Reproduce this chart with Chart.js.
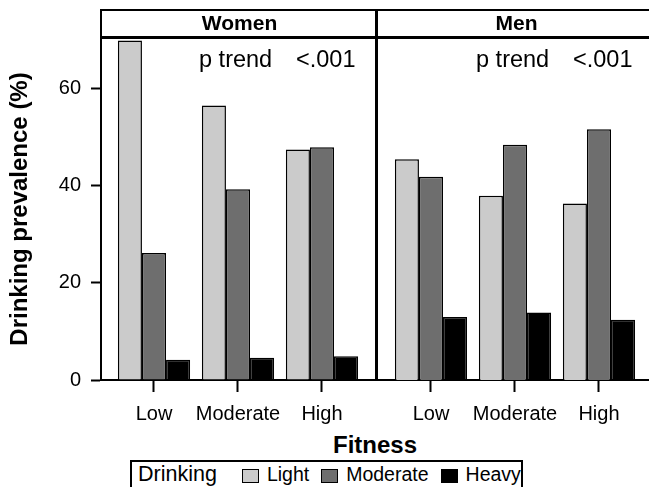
<!DOCTYPE html>
<html lang="en">
<head>
<meta charset="UTF-8">
<title>Drinking prevalence by fitness</title>
<script src="https://cdn.jsdelivr.net/npm/chart.js@4.4.0/dist/chart.umd.min.js"></script>
<style>
    * { margin: 0; padding: 0; box-sizing: border-box; }
    body {
        width: 649px; height: 487px; overflow: hidden; background: #fff;
        font-family: 'Liberation Sans', Arial, sans-serif; color: #000;
    }
    #wrap { position: relative; width: 649px; height: 487px; overflow: hidden; }
    #leftBox { position: absolute; left: 0; top: 0; width: 378px; height: 428px; }
    #rightBox { position: absolute; left: 378px; top: 0; width: 277px; height: 428px; }
    #xTitle {
        position: absolute; left: 375px; top: 433px; transform: translateX(-50%);
        font-weight: bold; font-size: 24px; line-height: 24px; white-space: nowrap;
    }
    #legend {
        position: absolute; left: 130px; top: 460px; width: 393px; height: 40px;
        border: 2px solid #000; display: flex; align-items: flex-start;
        line-height: 24px; padding-left: 6px; white-space: nowrap;
    }
    #legend .ttl { font-size: 21.5px; margin-right: 25px; }
    #legend .item { display: flex; align-items: flex-start; margin-right: 12px; font-size: 19.5px; }
    #legend .sw { width: 17px; height: 14px; margin-top: 7px; margin-right: 8px; border: 1.5px solid #000; }
</style>
</head>
<body>
<div id="wrap">
    <div id="leftBox"><canvas id="womenChart"></canvas></div>
    <div id="rightBox"><canvas id="menChart"></canvas></div>
    <div id="xTitle">Fitness</div>
    <div id="legend"></div>
</div>

<script>
    // data
    const fitnessLevels = ['Low', 'Moderate', 'High'];
    const fitnessPos = [1, 2, 3];
    const drinkingLevels = ['Light', 'Moderate', 'Heavy'];
    const womenLight = [70.0, 56.6, 47.5];
    const womenModerate = [26.2, 39.3, 48.0];
    const womenHeavy = [4.2, 4.6, 4.9];
    const menLight = [45.5, 38.0, 36.4];
    const menModerate = [41.9, 48.5, 51.7];
    const menHeavy = [13.0, 13.9, 12.4];
    const yTicks = [0, 20, 40, 60];
    const pTrendLabel = 'p trend';
    const pTrendValue = '<.001';

    const drinkingColors = ['#cbcbcb', '#6e6e6e', '#000000'];

    Chart.defaults.font.family = "'Liberation Sans', Arial, sans-serif";
    Chart.defaults.color = '#000';

    // strip header, frame lines and p trend text
    const panelDecor = {
        id: 'panelDecor',
        afterDraw(chart, args, opts) {
            const { ctx, chartArea: a } = chart;
            ctx.save();
            ctx.strokeStyle = '#000';
            ctx.lineWidth = 2;
            ctx.beginPath();
            ctx.moveTo(a.left, 10); ctx.lineTo(a.right, 10);
            ctx.stroke();
            ctx.lineWidth = 3;
            ctx.beginPath();
            ctx.moveTo(a.left, 37.5); ctx.lineTo(a.right, 37.5);
            ctx.stroke();
            if (opts.leftEdge) {
                ctx.lineWidth = 2;
                ctx.beginPath();
                ctx.moveTo(a.left, 9); ctx.lineTo(a.left, a.top + 1);
                ctx.stroke();
            }
            if (opts.divider) {
                ctx.lineWidth = 3;
                ctx.beginPath();
                ctx.moveTo(a.right - 1.5, 9); ctx.lineTo(a.right - 1.5, a.bottom + 1);
                ctx.stroke();
            }
            ctx.fillStyle = '#000';
            ctx.font = "bold 21px 'Liberation Sans', Arial, sans-serif";
            ctx.textAlign = 'center';
            ctx.textBaseline = 'middle';
            ctx.fillText(opts.title, (a.left + a.right) / 2, 24.5);
            ctx.font = "23.5px 'Liberation Sans', Arial, sans-serif";
            ctx.textAlign = 'left';
            ctx.textBaseline = 'alphabetic';
            ctx.fillText(pTrendLabel, a.left + 98, 66.5);
            ctx.fillText(pTrendValue, a.left + 195, 66.5);
            ctx.restore();
        }
    };

    function makeDatasets(series) {
        return series.map((vals, i) => ({
            label: drinkingLevels[i],
            data: vals.map((v, j) => ({ x: fitnessPos[j], y: v })),
            backgroundColor: drinkingColors[i],
            borderColor: '#000',
            borderWidth: 1.5,
            categoryPercentage: 0.86,
            barPercentage: 1
        }));
    }

    function makeChart(id, series, title, showY, decor) {
        return new Chart(document.getElementById(id), {
            type: 'bar',
            data: { datasets: makeDatasets(series) },
            plugins: [panelDecor],
            options: {
                responsive: true,
                maintainAspectRatio: false,
                animation: false,
                devicePixelRatio: 1,
                layout: { padding: { top: 38, left: 0, right: 0, bottom: 0 } },
                plugins: {
                    legend: { display: false },
                    tooltip: { enabled: false },
                    panelDecor: Object.assign({ title: title }, decor)
                },
                scales: {
                    x: {
                        type: 'linear',
                        min: 0.369,
                        max: 3.667,
                        offset: false,
                        grid: {
                            display: true, drawOnChartArea: false, offset: false,
                            tickLength: 12, tickWidth: 2, tickColor: '#000'
                        },
                        border: { display: true, color: '#000', width: 2 },
                        afterBuildTicks: s => { s.ticks = fitnessPos.map(v => ({ value: v })); },
                        afterFit: s => { s.height = 48; },
                        ticks: {
                            autoSkip: false, maxRotation: 0, padding: 10,
                            font: { size: 20 }, color: '#000',
                            callback: v => fitnessLevels[fitnessPos.indexOf(v)]
                        }
                    },
                    y: {
                        display: showY,
                        min: 0,
                        max: 70.5,
                        grid: {
                            display: true, drawOnChartArea: false,
                            tickLength: 10, tickWidth: 2, tickColor: '#000'
                        },
                        border: { display: true, color: '#000', width: 2 },
                        afterBuildTicks: s => { s.ticks = yTicks.map(v => ({ value: v })); },
                        afterFit: s => { s.width = showY ? 101 : 0; },
                        ticks: { padding: 10, font: { size: 20 }, color: '#000' },
                        title: {
                            display: true,
                            text: 'Drinking prevalence (%)',
                            font: { size: 24, weight: 'bold' },
                            padding: { top: 6, bottom: 0 },
                            color: '#000'
                        }
                    }
                }
            }
        });
    }

    makeChart('womenChart', [womenLight, womenModerate, womenHeavy], 'Women', true,
        { leftEdge: true, divider: true });
    makeChart('menChart', [menLight, menModerate, menHeavy], 'Men', false, {});

    // legend built from the series
    const legend = document.getElementById('legend');
    legend.innerHTML = '<span class="ttl">Drinking</span>' + drinkingLevels.map((d, i) =>
        '<span class="item"><span class="sw" style="background:' + drinkingColors[i] + '"></span>' + d + '</span>'
    ).join('');
</script>
</body>
</html>
